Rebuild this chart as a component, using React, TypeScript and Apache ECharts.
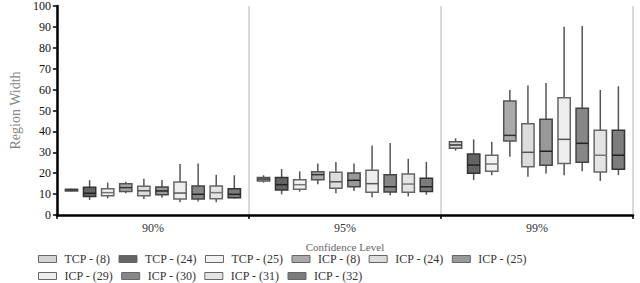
import React, { useEffect, useRef } from "react";
import * as echarts from "echarts";

const categories = ["90%", "95%", "99%"];
const yTicks = [0, 10, 20, 30, 40, 50, 60, 70, 80, 90, 100];

const seriesNames = [
  "TCP - (8)", "TCP - (24)", "TCP - (25)", "ICP - (8)", "ICP - (24)",
  "ICP - (25)", "ICP - (29)", "ICP - (30)", "ICP - (31)", "ICP - (32)",
];

// [min, q1, median, q3, max] for 90%, 95%, 99%
const tcp8 = [[11.2, 11.5, 12, 12.3, 12.6], [15.5, 16.3, 17.2, 18.0, 19.0], [30.8, 31.9, 33.5, 35.1, 36.7]];
const tcp24 = [[7.2, 8.8, 10.4, 13.3, 16.7], [9.9, 12.0, 14.5, 18.0, 22.0], [16.7, 20.0, 23.9, 29.2, 36.2]];
const tcp25 = [[8.0, 9.2, 10.7, 12.6, 15.5], [11.2, 12.3, 14.5, 16.9, 20.9], [19.0, 20.9, 24.4, 28.6, 35.1]];
const icp8 = [[10.4, 11.2, 13.1, 15.0, 15.9], [14.7, 16.9, 19.3, 20.7, 24.7], [27.9, 35.4, 38.1, 54.5, 59.8]];
const icp24 = [[7.7, 9.2, 11.6, 13.7, 17.4], [10.4, 12.8, 15.9, 20.4, 25.4], [18.3, 23.1, 30.0, 43.7, 62.0]];
const icp25 = [[8.3, 9.7, 11.5, 13.4, 16.7], [11.5, 13.5, 16.6, 20.1, 24.7], [19.8, 23.8, 30.5, 45.8, 63.2]];
const icp29 = [[6.1, 7.7, 10.5, 15.8, 24.4], [8.5, 10.9, 15.0, 21.4, 33.3], [19.0, 24.7, 36.2, 56.1, 90.1]];
const icp30 = [[6.4, 7.7, 9.9, 13.9, 24.7], [9.4, 11.0, 13.5, 19.3, 34.4], [20.9, 25.2, 34.3, 51.1, 90.4]];
const icp31 = [[6.1, 7.8, 10.7, 13.9, 19.3], [8.9, 10.9, 14.8, 19.6, 26.9], [16.3, 20.6, 28.6, 40.5, 59.8]];
const icp32 = [[7.8, 8.3, 9.9, 12.6, 19.0], [9.7, 11.3, 13.5, 17.6, 25.4], [19.1, 21.9, 28.6, 40.5, 61.6]];

const seriesValues = [tcp8, tcp24, tcp25, icp8, icp24, icp25, icp29, icp30, icp31, icp32];

const fills = ["#d4d4d4", "#646464", "#f2f2f2", "#aaaaaa", "#dddddd", "#999999", "#eeeeee", "#878787", "#e4e4e4", "#7c7c7c"];
const borders = ["#555", "#333", "#666", "#555", "#666", "#444", "#666", "#444", "#666", "#333"];
const medians = ["#333", "#222", "#777", "#333", "#555", "#222", "#555", "#222", "#777", "#222"];

const FONT = "'Liberation Serif', 'Times New Roman', serif";

export default function App() {
  const ref = useRef<HTMLDivElement>(null);
  useEffect(() => {
    document.body.style.margin = "0";
    if (!ref.current) return;
    const chart = echarts.init(ref.current, null, { renderer: "svg" });
    const n = seriesNames.length;
    const series = seriesNames.map((name, s) => ({
      name,
      type: "custom",
      encode: { x: 0, y: [1, 2, 3, 4, 5] },
      itemStyle: { color: fills[s], borderColor: borders[s] },
      data: seriesValues[s].map((v, gi) => [gi, ...v]),
      renderItem: (params: any, api: any) => {
        const band = api.size([1, 0])[0];
        const step = band * 0.0942;
        const bw = band * 0.064;
        const cx = api.coord([api.value(0), 0])[0] + (s - (n - 1) / 2) * step;
        const yMin = api.coord([api.value(0), api.value(1)])[1];
        const yQ1 = api.coord([api.value(0), api.value(2)])[1];
        const yMed = api.coord([api.value(0), api.value(3)])[1];
        const yQ3 = api.coord([api.value(0), api.value(4)])[1];
        const yMax = api.coord([api.value(0), api.value(5)])[1];
        return {
          type: "group",
          children: [
            {
              type: "line",
              shape: { x1: cx, y1: yMax, x2: cx, y2: yMin },
              style: { stroke: "#555", lineWidth: 1.5 },
            },
            {
              type: "rect",
              shape: { x: cx - bw / 2, y: yQ3, width: bw, height: Math.max(yQ1 - yQ3, 1) },
              style: { fill: fills[s], stroke: borders[s], lineWidth: 1.5 },
            },
            {
              type: "line",
              shape: { x1: cx - bw / 2, y1: yMed, x2: cx + bw / 2, y2: yMed },
              style: { stroke: medians[s], lineWidth: 1.5 },
            },
          ],
        };
      },
    }));

    const legendItem = (name: string) => {
      const i = seriesNames.indexOf(name);
      return { name, itemStyle: { color: fills[i], borderColor: "#666", borderWidth: 1 } };
    };
    const legendCommon = {
      orient: "horizontal",
      left: 38,
      itemWidth: 18,
      itemHeight: 7,
      itemGap: 8,
      icon: "rect",
      padding: 0,
      textStyle: { fontFamily: FONT, fontSize: 12, color: "#333", padding: [0, 0, 0, 3] },
    };

    chart.setOption({
      animation: false,
      grid: { left: 40, right: 7, top: 6, bottom: 68 },
      legend: [
        { ...legendCommon, top: 253, data: seriesNames.slice(0, 6).map(legendItem) },
        { ...legendCommon, top: 270, data: seriesNames.slice(6).map(legendItem) },
      ],
      xAxis: {
        type: "category",
        data: categories,
        name: "Confidence Level",
        nameLocation: "middle",
        nameGap: 26,
        nameTextStyle: { fontFamily: FONT, fontSize: 11, color: "#666" },
        axisLine: { lineStyle: { color: "#000", width: 2.5 } },
        axisTick: { show: true, length: 4, lineStyle: { color: "#000", width: 1.5 } },
        axisLabel: { fontFamily: FONT, fontSize: 12, color: "#333", margin: 7 },
        splitLine: { show: true, lineStyle: { color: "#cccccc", width: 1.5 } },
      },
      yAxis: {
        type: "value",
        min: 0,
        max: 100,
        interval: 10,
        name: "Region Width",
        nameLocation: "middle",
        nameGap: 31,
        nameTextStyle: { fontFamily: FONT, fontSize: 14, color: "#888" },
        axisLine: { show: true, lineStyle: { color: "#000", width: 2.5 } },
        axisTick: { show: true, length: 4, lineStyle: { color: "#000", width: 1.5 } },
        axisLabel: {
          fontFamily: FONT, fontSize: 12, color: "#111", margin: 6,
          formatter: (v: number) => (yTicks.includes(v) ? String(v) : ""),
        },
        splitLine: { show: false },
      },
      series,
    });
    return () => chart.dispose();
  }, []);
  return <div ref={ref} style={{ width: 640, height: 283 }} />;
}
